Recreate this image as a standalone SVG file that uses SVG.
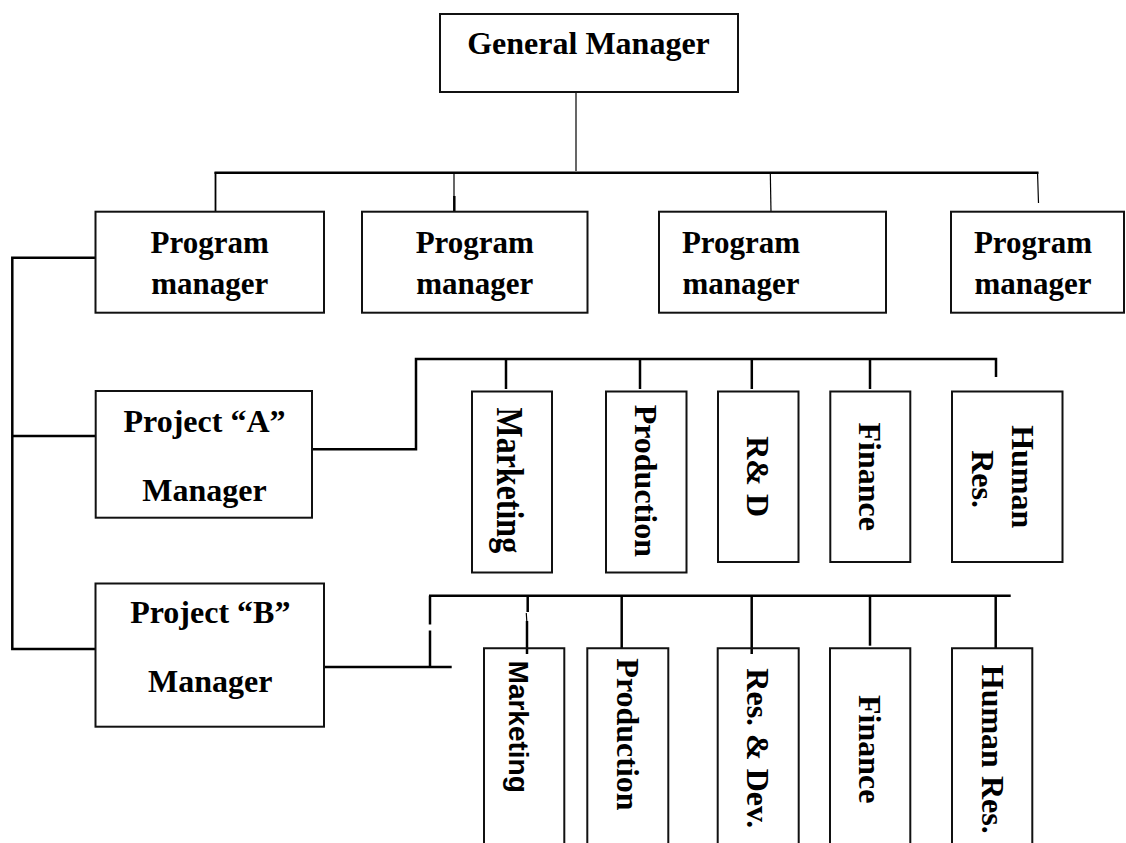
<svg xmlns="http://www.w3.org/2000/svg" width="1126" height="843" viewBox="0 0 1126 843">
<style>
.box{fill:#fff;stroke:#111;stroke-width:2}
.open{fill:none;stroke:#111;stroke-width:2}
.t{font-family:"Liberation Serif","Times New Roman",serif;font-weight:bold;font-size:32px;fill:#000;text-anchor:middle}
.pm{font-size:31px}
.s{font-family:"Liberation Sans",Arial,sans-serif;font-weight:bold;font-size:28px;fill:#000;text-anchor:middle}
.c line,.c path{stroke:#000;stroke-width:2.5;fill:none}
.c .thin{stroke-width:1.2}
.c .mid{stroke-width:1.8}
</style>
<rect width="1126" height="843" fill="#fff"/>
<g id="connectors" class="c">
  <line class="thin" x1="576" y1="92" x2="576" y2="171"/>
  <line x1="214.5" y1="172.7" x2="1038.5" y2="172.7"/>
  <line class="mid" x1="215.5" y1="172" x2="215.5" y2="212"/>
  <line class="thin" x1="454" y1="172" x2="454" y2="197"/>
  <line x1="454.3" y1="196" x2="454.3" y2="212"/>
  <line class="thin" x1="770.3" y1="172" x2="771" y2="212"/>
  <line class="thin" x1="1037.5" y1="172" x2="1038.5" y2="203"/>
  <path d="M95.5,257.7 H12.3 V649 H95.5"/>
  <line x1="12.3" y1="436" x2="95.7" y2="436"/>
  <path d="M312,449.3 H416 V359 H996 V377"/>
  <line x1="506" y1="359" x2="506" y2="389"/>
  <line x1="640" y1="359" x2="640" y2="389"/>
  <line x1="751.8" y1="359" x2="751.8" y2="389"/>
  <line x1="870" y1="359" x2="870" y2="389"/>
  <line x1="324" y1="667" x2="451.7" y2="667"/>
  <line x1="430" y1="595.7" x2="430" y2="624.5"/>
  <line x1="430" y1="630.5" x2="430" y2="667"/>
  <line x1="429" y1="595.7" x2="1010.7" y2="595.7"/>
  <line x1="527.7" y1="596" x2="527.7" y2="612"/>
  <line class="thin" x1="526.3" y1="613" x2="526.8" y2="621"/>
  <line x1="527" y1="621" x2="527" y2="654"/>
  <line x1="621.7" y1="596" x2="621.7" y2="648.3"/>
  <line x1="751.7" y1="596" x2="751.7" y2="654"/>
  <line x1="870" y1="596" x2="870" y2="645.7"/>
  <line x1="995.7" y1="596" x2="995.7" y2="648.3"/>
</g>
<g id="general-manager">
  <rect class="box" x="440" y="14" width="298" height="78"/>
  <text class="t" x="588.5" y="54">General Manager</text>
</g>
<g id="program-manager-1">
  <rect class="box" x="95.5" y="211.7" width="228.5" height="101"/>
  <text class="t pm" x="209.7" y="253">Program</text>
  <text class="t pm" x="209.7" y="294">manager</text>
</g>
<g id="program-manager-2">
  <rect class="box" x="362" y="211.7" width="225.5" height="101"/>
  <text class="t pm" x="474.8" y="253">Program</text>
  <text class="t pm" x="474.8" y="294">manager</text>
</g>
<g id="program-manager-3">
  <rect class="box" x="659" y="211.7" width="227" height="101"/>
  <text class="t pm" x="741" y="253">Program</text>
  <text class="t pm" x="741" y="294">manager</text>
</g>
<g id="program-manager-4">
  <rect class="box" x="951" y="211.7" width="173" height="101"/>
  <text class="t pm" x="1033" y="253">Program</text>
  <text class="t pm" x="1033" y="294">manager</text>
</g>
<g id="project-a-manager">
  <rect class="box" x="95.7" y="391" width="216.3" height="126.7"/>
  <text class="t" x="204.5" y="431.7">Project “A”</text>
  <text class="t" x="204.5" y="500.7">Manager</text>
</g>
<g id="project-b-manager">
  <rect class="box" x="95.5" y="583.5" width="228.5" height="143.2"/>
  <text class="t" x="210.3" y="623.3">Project “B”</text>
  <text class="t" x="210.3" y="691.7">Manager</text>
</g>
<g id="a-marketing">
  <rect class="box" x="472" y="391.5" width="80" height="181"/>
  <text class="t" transform="translate(497,480.3) rotate(90) scale(1,1.2)">Marketing</text>
</g>
<g id="a-production">
  <rect class="box" x="606" y="391.5" width="80.5" height="181"/>
  <text class="t" transform="translate(635,480.8) rotate(90)">Production</text>
</g>
<g id="a-rnd">
  <rect class="box" x="718" y="391.5" width="80.5" height="170.5"/>
  <text class="t" transform="translate(746.7,476.7) rotate(90)">R&amp; D</text>
</g>
<g id="a-finance">
  <rect class="box" x="830.3" y="391.5" width="80" height="170.5"/>
  <text class="t" transform="translate(859.3,476.7) rotate(90)">Finance</text>
</g>
<g id="a-human-res">
  <rect class="box" x="952" y="391.5" width="110.5" height="170.5"/>
  <text class="t" transform="translate(1011.7,476.7) rotate(90)">Human</text>
  <text class="t" transform="translate(971.7,479) rotate(90)">Res.</text>
</g>
<g id="b-marketing">
  <path class="open" d="M484,845 V648.3 H564.3 V845"/>
  <text class="s" transform="translate(509,726.7) rotate(90)">Marketing</text>
</g>
<g id="b-production">
  <path class="open" d="M587.3,845 V648.3 H668.3 V845"/>
  <text class="t" transform="translate(616.7,734.5) rotate(90)">Production</text>
</g>
<g id="b-res-dev">
  <path class="open" d="M717.7,845 V648.3 H798.7 V845"/>
  <text class="t" transform="translate(746.7,748.3) rotate(90)">Res. &amp; Dev.</text>
</g>
<g id="b-finance">
  <path class="open" d="M830,845 V648.3 H910.3 V845"/>
  <text class="t" transform="translate(859.3,749.2) rotate(90)">Finance</text>
</g>
<g id="b-human-res">
  <path class="open" d="M952,845 V648.3 H1032.3 V845"/>
  <text class="t" transform="translate(981.7,749.2) rotate(90)">Human Res.</text>
</g>
</svg>
